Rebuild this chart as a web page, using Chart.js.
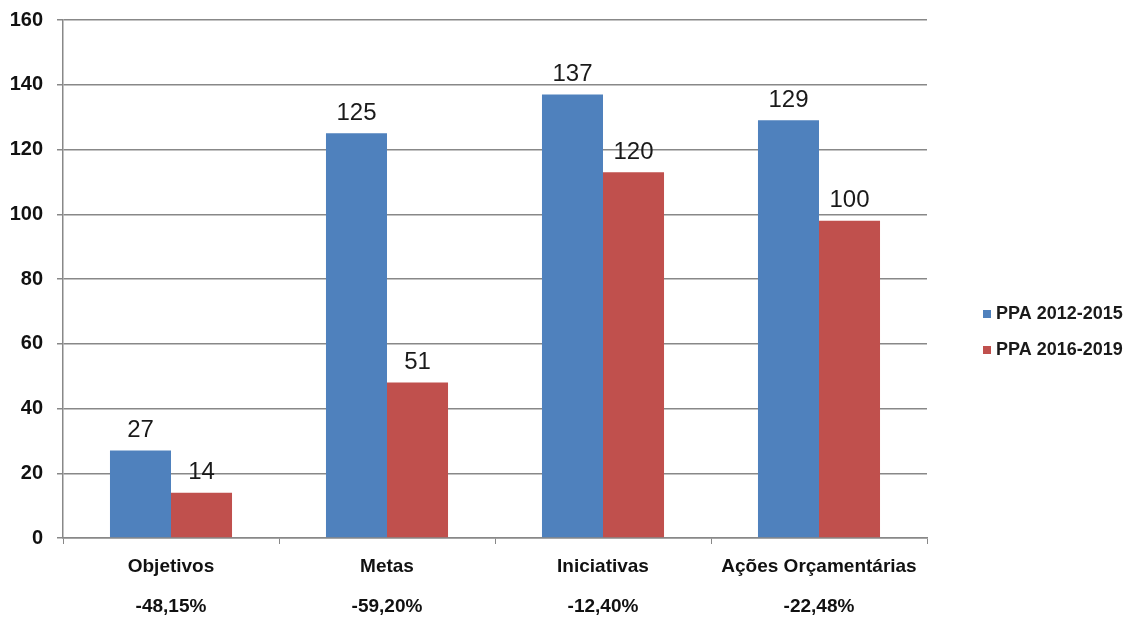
<!DOCTYPE html>
<html>
<head>
<meta charset="utf-8">
<script src="https://cdn.jsdelivr.net/npm/chart.js@4/dist/chart.umd.min.js"></script>
<style>
  html, body { margin: 0; padding: 0; background: #ffffff; }
  #wrap { width: 1138px; height: 619px; }
</style>
</head>
<body>
<div id="wrap"><canvas id="c" width="1138" height="619"></canvas></div>
<script>
const categories = ['Objetivos', 'Metas', 'Iniciativas', 'Ações Orçamentárias'];
const changeLabels = ['-48,15%', '-59,20%', '-12,40%', '-22,48%'];
const seriesNames = ['PPA 2012-2015', 'PPA 2016-2019'];
const ppa2012Values = [27, 125, 137, 129];
const ppa2016Values = [14, 48, 113, 98];
const ppa2012Labels = ['27', '125', '137', '129'];
const ppa2016Labels = ['14', '51', '120', '100'];
const yTicks = [0, 20, 40, 60, 80, 100, 120, 140, 160];

const FONT = '"Liberation Sans", Arial, sans-serif';
const seriesColors = ['#4F81BD', '#C0504D'];
const valueLabels = [ppa2012Labels, ppa2016Labels];

const valueLabelPlugin = {
  id: 'valueLabels',
  afterDatasetsDraw(chart) {
    const ctx = chart.ctx;
    ctx.save();
    ctx.font = '24px ' + FONT;
    ctx.fillStyle = '#1a1a1a';
    ctx.textAlign = 'center';
    ctx.textBaseline = 'middle';
    chart.data.datasets.forEach((ds, di) => {
      const meta = chart.getDatasetMeta(di);
      meta.data.forEach((el, i) => {
        ctx.fillText(valueLabels[di][i], el.x, el.y - 20);
      });
    });
    ctx.restore();
  }
};

const sideLegendPlugin = {
  id: 'sideLegend',
  afterDraw(chart) {
    const ctx = chart.ctx;
    const area = chart.chartArea;
    ctx.save();
    ctx.font = 'bold 18px ' + FONT;
    ctx.textAlign = 'left';
    ctx.textBaseline = 'middle';
    const x0 = area.right + 56;
    const yRows = [314, 350];
    chart.data.datasets.forEach((ds, di) => {
      const y = yRows[di];
      ctx.fillStyle = ds.backgroundColor;
      ctx.fillRect(x0, y - 4, 8, 8);
      ctx.fillStyle = '#1a1a1a';
      ctx.fillText(ds.label, x0 + 13, y);
    });
    ctx.restore();
  }
};

new Chart(document.getElementById('c'), {
  type: 'bar',
  data: {
    labels: categories,
    datasets: [
      { label: seriesNames[0], data: ppa2012Values, backgroundColor: seriesColors[0], borderWidth: 0 },
      { label: seriesNames[1], data: ppa2016Values, backgroundColor: seriesColors[1], borderWidth: 0 }
    ]
  },
  options: {
    responsive: false,
    animation: false,
    devicePixelRatio: 1,
    categoryPercentage: 0.565,
    barPercentage: 1.0,
    layout: { padding: { left: 10, right: 211, top: 20, bottom: 1 } },
    plugins: {
      legend: { display: false },
      tooltip: { enabled: false },
      title: { display: false }
    },
    scales: {
      x: {
        afterFit(axis) { axis.height = 40; },
        grid: { drawOnChartArea: false, drawTicks: true, tickLength: 6, color: '#888888', offset: true },
        border: { color: '#888888', width: 1.5 },
        ticks: {
          font: { family: FONT, weight: 'bold', size: 19 },
          color: '#111111', padding: 11, maxRotation: 0, autoSkip: false
        }
      },
      x2: {
        type: 'category',
        labels: changeLabels,
        position: 'bottom',
        offset: true,
        afterFit(axis) { axis.height = 40; },
        grid: { display: false, drawTicks: false },
        border: { display: false },
        ticks: {
          font: { family: FONT, weight: 'bold', size: 19 },
          color: '#111111', padding: 17, maxRotation: 0, autoSkip: false
        }
      },
      y: {
        min: 0,
        max: 160,
        afterBuildTicks(axis) { axis.ticks = yTicks.map(v => ({ value: v })); },
        afterFit(axis) { axis.width = 53; axis.paddingTop = 0; axis.paddingBottom = 0; },
        grid: { color: '#888888', lineWidth: 1.5, tickLength: 6 },
        border: { color: '#888888', width: 1.5 },
        ticks: {
          font: { family: FONT, weight: 'bold', size: 20 },
          color: '#111111', padding: 14
        }
      }
    }
  },
  plugins: [valueLabelPlugin, sideLegendPlugin]
});
</script>
</body>
</html>
